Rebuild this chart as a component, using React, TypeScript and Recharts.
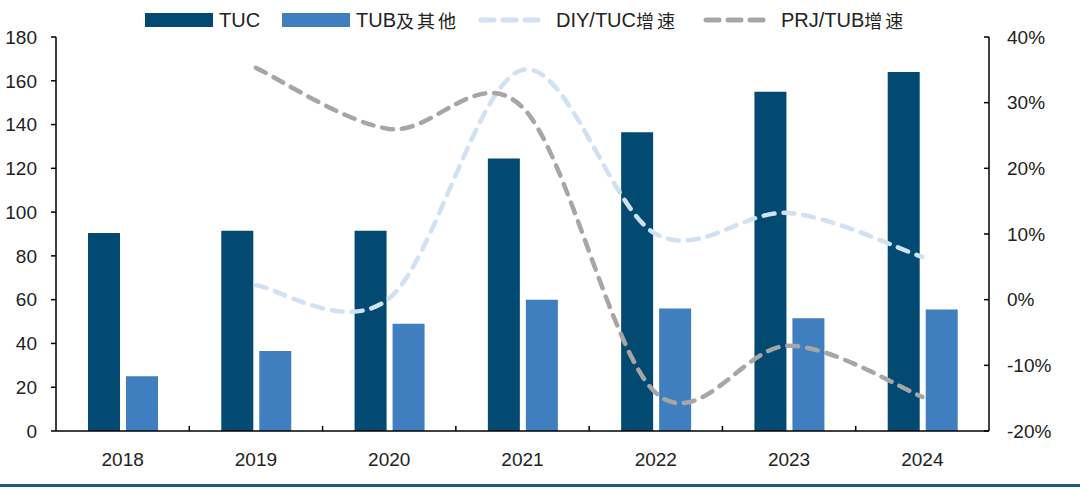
import React from 'react';
import { ComposedChart, Bar, Line, XAxis, YAxis } from 'recharts';

const years = ['2018', '2019', '2020', '2021', '2022', '2023', '2024'];
const tuc = [90.5, 91.5, 91.5, 124.5, 136.5, 155, 164];
const tubOther = [25, 36.5, 49, 60, 56, 51.5, 55.5];
const diyTucGrowth = [null, 2.2, 0.2, 35, 10, 13.2, 6.5];
const prjTubGrowth = [null, 35.3, 26, 29.3, -14.2, -7, -14.8];

const leftTicks = [0, 20, 40, 60, 80, 100, 120, 140, 160, 180];
const rightTicks = [-20, -10, 0, 10, 20, 30, 40];

const data = years.map((year, i) => ({
  year,
  tuc: tuc[i],
  tubOther: tubOther[i],
  diy: diyTucGrowth[i],
  prj: prjTubGrowth[i],
}));

const FONT = '"Liberation Sans", Arial, "Noto Sans CJK SC", sans-serif';
const C_TUC = '#024a72';
const C_TUB = '#3f7fc0';
const C_DIY = '#cfe1f2';
const C_PRJ = '#a6a6a6';

// Excel-style smoothed line (Catmull-Rom as cubic bezier)
const excelCurve = (context: any) => {
  let pts: number[][] = [];
  return {
    areaStart() {},
    areaEnd() {},
    lineStart() {
      pts = [];
    },
    point(x: number, y: number) {
      pts.push([+x, +y]);
    },
    lineEnd() {
      if (!pts.length) return;
      context.moveTo(pts[0][0], pts[0][1]);
      for (let i = 0; i < pts.length - 1; i++) {
        const p0 = pts[i - 1] || pts[i];
        const p1 = pts[i];
        const p2 = pts[i + 1];
        const p3 = pts[i + 2] || p2;
        context.bezierCurveTo(
          p1[0] + (p2[0] - p0[0]) / 6,
          p1[1] + (p2[1] - p0[1]) / 6,
          p2[0] - (p3[0] - p1[0]) / 6,
          p2[1] - (p3[1] - p1[1]) / 6,
          p2[0],
          p2[1]
        );
      }
    },
  };
};

const YearTick = (props: any) => {
  const { x, y, payload, index } = props;
  const off = payload && typeof payload.offset === 'number' ? payload.offset : 0;
  return (
    <g>
      {index > 0 && off ? (
        <line x1={x - off} x2={x - off} y1={y} y2={y - 5} stroke="#000" strokeWidth={1.5} />
      ) : null}
      <text x={x} y={y + 22} dy="0.71em" textAnchor="middle" fontSize={19} fontFamily={FONT} fill="#222">
        {payload.value}
      </text>
    </g>
  );
};

const LegendItem = ({ kind, color, latin, cjk, left }: any) => (
  <div style={{ position: 'absolute', left, top: 0, height: 40, display: 'flex', alignItems: 'center' }}>
    {kind === 'rect' ? (
      <div style={{ width: 68, height: 14, background: color, marginRight: 6 }} />
    ) : (
      <svg width={66} height={10} style={{ marginRight: 12 }}>
        <line x1={3} x2={63} y1={5} y2={5} stroke={color} strokeWidth={5} strokeDasharray="13 9" strokeLinecap="round" />
      </svg>
    )}
    <span>{latin}</span>
    {cjk ? <span style={{ letterSpacing: 3, fontSize: 18 }}>{cjk}</span> : null}
  </div>
);

export default function App() {
  return (
    <div
      style={{
        position: 'absolute',
        left: 0,
        top: 0,
        width: 1080,
        height: 491,
        background: '#fff',
        overflow: 'hidden',
      }}
    >
      <div
        style={{
          position: 'absolute',
          left: 0,
          top: 0,
          width: 1080,
          height: 40,
          fontFamily: FONT,
          fontSize: 20,
          color: '#222',
          whiteSpace: 'nowrap',
        }}
      >
        <LegendItem kind="rect" color={C_TUC} latin="TUC" left={145} />
        <LegendItem kind="rect" color={C_TUB} latin="TUB" cjk="及其他" left={282} />
        <LegendItem kind="dash" color={C_DIY} latin="DIY/TUC" cjk="增速" left={478} />
        <LegendItem kind="dash" color={C_PRJ} latin="PRJ/TUB" cjk="增速" left={703} />
      </div>
      <ComposedChart
        width={1080}
        height={491}
        data={data}
        margin={{ top: 37, right: 21, bottom: 30, left: 0 }}
        barSize={32}
        barGap={6}
      >
        <XAxis
          dataKey="year"
          height={30}
          tickSize={0}
          tickMargin={0}
          tickLine={false}
          axisLine={{ stroke: '#000', strokeWidth: 1.5 }}
          tick={<YearTick />}
          interval={0}
        />
        <YAxis
          yAxisId="left"
          width={56}
          domain={[0, 180]}
          ticks={leftTicks}
          interval={0}
          tickSize={5}
          tickMargin={14}
          axisLine={{ stroke: '#000', strokeWidth: 1.5 }}
          tickLine={{ stroke: '#000', strokeWidth: 1.5 }}
          tick={{ fontSize: 19, fontFamily: FONT, fill: '#222' }}
        />
        <YAxis
          yAxisId="right"
          orientation="right"
          width={70}
          domain={[-20, 40]}
          ticks={rightTicks}
          interval={0}
          tickSize={-5}
          tickMargin={23}
          tickFormatter={(v: number) => `${v}%`}
          axisLine={{ stroke: '#000', strokeWidth: 1.5 }}
          tickLine={{ stroke: '#000', strokeWidth: 1.5 }}
          tick={{ fontSize: 19, fontFamily: FONT, fill: '#222' }}
        />
        <Bar yAxisId="left" dataKey="tuc" name="TUC" fill={C_TUC} isAnimationActive={false} />
        <Bar yAxisId="left" dataKey="tubOther" name="TUB及其他" fill={C_TUB} isAnimationActive={false} />
        <Line
          yAxisId="right"
          dataKey="diy"
          name="DIY/TUC增速"
          type={excelCurve as any}
          stroke={C_DIY}
          strokeWidth={4.5}
          strokeDasharray="11 9"
          strokeLinecap="round"
          dot={false}
          activeDot={false}
          isAnimationActive={false}
        />
        <Line
          yAxisId="right"
          dataKey="prj"
          name="PRJ/TUB增速"
          type={excelCurve as any}
          stroke={C_PRJ}
          strokeWidth={4.5}
          strokeDasharray="11 9"
          strokeLinecap="round"
          dot={false}
          activeDot={false}
          isAnimationActive={false}
        />
      </ComposedChart>
      <div
        style={{
          position: 'absolute',
          left: 0,
          top: 484,
          width: 1080,
          height: 3,
          background: '#1d5b80',
        }}
      />
    </div>
  );
}
